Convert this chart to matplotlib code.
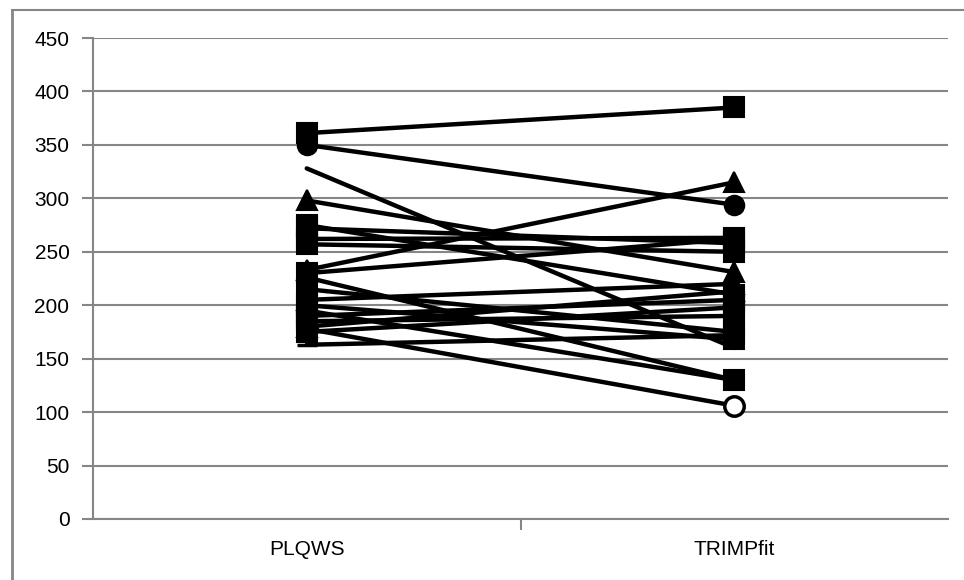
import matplotlib
matplotlib.use("Agg")
import matplotlib.pyplot as plt
from matplotlib.lines import Line2D

# Data: one line per athlete, PLQWS -> TRIMPfit
categories = ["PLQWS", "TRIMPfit"]
plqws = [361, 350, 328, 298, 275, 272, 262, 257, 233, 230, 226, 215,
         205, 200, 195, 190, 185, 180, 178, 175, 163]
trimpfit = [385, 294, 160, 231, 210, 258, 263, 250, 315, 262, 130, 175,
            220, 168, 130, 205, 190, 213, 106, 198, 172]
y_ticks = [0, 50, 100, 150, 200, 250, 300, 350, 400, 450]

# marker per line (black & white excel style)
markers = ["s", "o", "", "^", "s", "s", "s", "s", "^", "s", "*", "s",
           "^", "s", "s", "s", "s", "^", "o", "s", "_"]

grey = "#868686"
plt.rcParams["font.family"] = ["Liberation Sans", "DejaVu Sans"]

fig = plt.figure(figsize=(9.64, 5.8), dpi=100)
ax = fig.add_axes([93 / 964, 1 - 519 / 580, (948 - 93) / 964, (519 - 38) / 580])

x = [0, 1]
for a, b, m in zip(plqws, trimpfit, markers):
    hollow = m == "o" and b < 120
    ax.plot(x, [a, b], color="black", linewidth=3.2, solid_capstyle="round",
            marker=m if m else None, markersize=14,
            markerfacecolor="white" if hollow else "black",
            markeredgecolor="black",
            markeredgewidth=2.5 if (hollow or m == "_") else 1.5)

ax.set_xlim(-0.5, 1.5)
ax.set_ylim(0, 450)
ax.set_yticks(y_ticks)
ax.set_xticks(x)
ax.set_xticklabels(categories)
ax.yaxis.grid(True, color=grey, linewidth=1.5)
ax.set_axisbelow(True)

for side in ["top", "right"]:
    ax.spines[side].set_visible(False)
for side in ["left", "bottom"]:
    ax.spines[side].set_color(grey)
    ax.spines[side].set_linewidth(1.5)

ax.tick_params(axis="y", length=8, width=1.5, color=grey, labelsize=15, pad=9)
ax.tick_params(axis="x", length=0, labelsize=15, pad=15)
# tick between categories on the category axis
ax.set_xticks([0.5], minor=True)
ax.tick_params(axis="x", which="minor", length=8, width=1.5, color=grey)

# outer chart border (left and top)
fig.add_artist(Line2D([12 / 964, 12 / 964], [0, 1 - 10 / 580], color=grey,
                      linewidth=2, transform=fig.transFigure))
fig.add_artist(Line2D([12 / 964, 1], [1 - 10 / 580, 1 - 10 / 580], color=grey,
                      linewidth=1.5, transform=fig.transFigure))

fig.savefig("out.png", dpi=100)
